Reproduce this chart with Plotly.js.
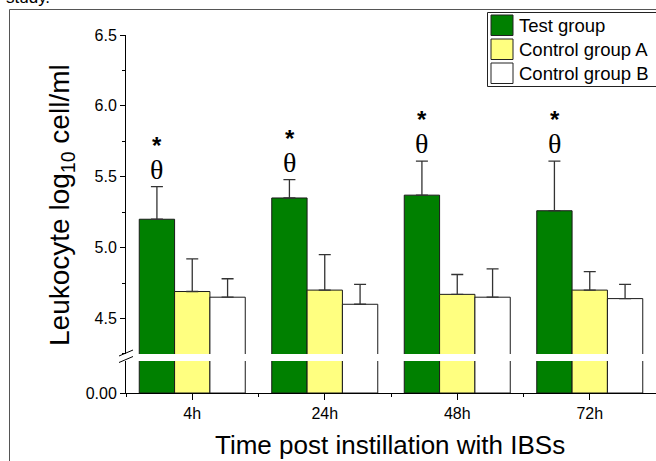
<!DOCTYPE html>
<html><head><meta charset="utf-8">
<script src="https://cdn.plot.ly/plotly-3.0.1.min.js"></script>
<style>html,body{margin:0;padding:0;background:#fff;}</style>
</head><body><div id="chart" style="width:656px;height:461px;"></div>
<script>
// ---- data ----
const categories = ["4h", "24h", "48h", "72h"];
const seriesNames = ["Test group", "Control group A", "Control group B"];
const testGroup = [5.20, 5.35, 5.37, 5.26];
const testGroupErr = [0.23, 0.13, 0.24, 0.35];
const controlA = [4.69, 4.70, 4.67, 4.70];
const controlAErr = [0.23, 0.25, 0.14, 0.13];
const controlB = [4.65, 4.60, 4.65, 4.64];
const controlBErr = [0.13, 0.14, 0.20, 0.10];
const upperTicks = [4.5, 5.0, 5.5, 6.0, 6.5];
const lowerTicks = [0];
const markStar = "*";
const markTheta = "θ";

// ---- layout geometry ----
const W = 656, H = 461;
const M = {l: 126, r: 0, t: 35, b: 68};
const PW = W - M.l - M.r, PH = H - M.t - M.b;
const px2x = p => (p - M.l) / PW;
const px2y = p => (H - M.b - p) / PH;

const colors = ["#008000", "#FFFF80", "#FFFFFF"];
const values = [testGroup, controlA, controlB];
const errs = [testGroupErr, controlAErr, controlBErr];
const xi = categories.map((c, i) => i);

const traces = [];
values.forEach((v, k) => {
  // upper part of broken axis
  traces.push({
    type: "bar", x: xi, y: v, xaxis: "x", yaxis: "y2", name: seriesNames[k],
    marker: {color: colors[k], line: {color: "#1a1a1a", width: 1}},
    error_y: {type: "data", symmetric: false, array: errs[k], arrayminus: v.map(() => 0),
              color: "#333", thickness: 1.3, width: 6},
    showlegend: false, hoverinfo: "skip"
  });
});
values.forEach((v, k) => {
  // lower part of broken axis
  traces.push({
    type: "bar", x: xi, y: v, xaxis: "x", yaxis: "y", name: seriesNames[k],
    marker: {color: colors[k], line: {color: "#1a1a1a", width: 1}},
    showlegend: false, hoverinfo: "skip"
  });
});

const font = "Arial, 'Liberation Sans', sans-serif";
const annotations = [];
categories.forEach((c, i) => {
  const top = testGroup[i] + testGroupErr[i];
  annotations.push({x: i - 0.2667, y: top, xref: "x", yref: "y2",
    text: "<span style='font-size:24px;font-weight:bold'>" + markStar + "</span><br>" +
          "<span style='font-family:Liberation Serif, Times New Roman, serif;font-size:28px'>" + markTheta + "</span>",
    showarrow: false, yanchor: "bottom", yshift: 0, align: "center",
    font: {family: font, size: 19, color: "#000"}});
});
// axis titles
annotations.push({x: px2x(390), y: px2y(445), xref: "paper", yref: "paper", text: "Time post instillation with IBSs",
  showarrow: false, xanchor: "center", yanchor: "middle", font: {family: font, size: 26, color: "#000"}});
annotations.push({x: px2x(61), y: px2y(205), xref: "paper", yref: "paper", text: "Leukocyte log<sub>10</sub> cell/ml",
  textangle: -90, showarrow: false, xanchor: "center", yanchor: "middle", font: {family: font, size: 28, color: "#000"}});
// cut caption fragment
annotations.push({x: px2x(4), y: px2y(9), xref: "paper", yref: "paper", text: "study.", showarrow: false,
  xanchor: "left", yanchor: "bottom", font: {family: font, size: 17, color: "#000"}});

const shapes = [];
// outer frame
shapes.push({type: "rect", xref: "paper", yref: "paper", x0: px2x(9.5), x1: px2x(900), y0: px2y(9.5), y1: px2y(900),
  line: {color: "#555", width: 1}, fillcolor: "rgba(0,0,0,0)", layer: "below"});
// legend box
shapes.push({type: "rect", xref: "paper", yref: "paper", x0: px2x(487.5), x1: px2x(900), y0: px2y(12.5), y1: px2y(86.5),
  line: {color: "#222", width: 1}, fillcolor: "#fff"});
const rowTop = [15, 39, 63];
seriesNames.forEach((n, k) => {
  shapes.push({type: "rect", xref: "paper", yref: "paper", x0: px2x(491), x1: px2x(513),
    y0: px2y(rowTop[k]), y1: px2y(rowTop[k] + 20.5), line: {color: "#222", width: 1}, fillcolor: colors[k]});
  annotations.push({x: px2x(517), y: px2y(rowTop[k] + 10.5), xref: "paper", yref: "paper", text: n,
    showarrow: false, xanchor: "left", yanchor: "middle", font: {family: font, size: 18.5, color: "#000"}});
});
// break marks on y axis
[[356, 350], [362.5, 356.5]].forEach(([a, b]) => {
  shapes.push({type: "line", xref: "paper", yref: "paper", x0: px2x(119), x1: px2x(133),
    y0: px2y(a), y1: px2y(b), line: {color: "#000", width: 1}});
});

const upperBottom = px2y(354), lowerTop = px2y(361);
const upperMin = 4.5 - (354 - 318.5) / 141.5;

const layout = {
  width: W, height: H, margin: M, paper_bgcolor: "#fff", plot_bgcolor: "#fff",
  font: {family: font, color: "#000"},
  barmode: "group", bargap: 0.2, bargroupgap: 0, showlegend: false,
  xaxis: {range: [-0.5, 3.5], tickmode: "array", tickvals: xi, ticktext: categories,
    showline: true, linecolor: "#000", linewidth: 1, ticks: "outside", ticklen: 6, tickcolor: "#000",
    showgrid: false, zeroline: false, anchor: "y", tickfont: {size: 16},
    minor: {tickmode: "linear", tick0: -0.5, dtick: 1, ticks: "outside", ticklen: 3, tickcolor: "#000", showgrid: false}},
  yaxis: {domain: [0, lowerTop], range: [0, 0.3], tickmode: "array", tickvals: lowerTicks, tickformat: ".2f",
    showline: true, linecolor: "#000", linewidth: 1, ticks: "outside", ticklen: 5, tickcolor: "#000",
    showgrid: false, zeroline: false, anchor: "x", tickfont: {size: 16}},
  yaxis2: {domain: [upperBottom, 1], range: [upperMin, 6.5], tickmode: "array", tickvals: upperTicks, tickformat: ".1f",
    showline: true, linecolor: "#000", linewidth: 1, ticks: "outside", ticklen: 5, tickcolor: "#000",
    showgrid: false, zeroline: false, anchor: "x", tickfont: {size: 16},
    minor: {tickmode: "linear", tick0: 4.25, dtick: 0.5, ticks: "outside", ticklen: 3, tickcolor: "#000", showgrid: false}},
  annotations: annotations, shapes: shapes
};
Plotly.newPlot("chart", traces, layout, {displayModeBar: false, staticPlot: true});
</script></body></html>
